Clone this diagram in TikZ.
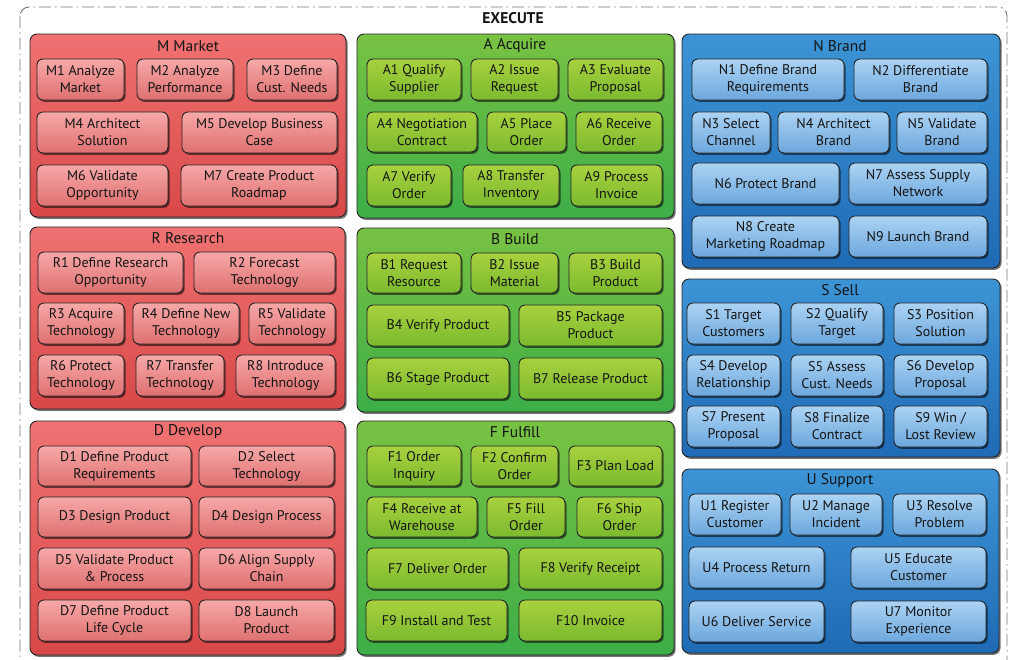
\documentclass[tikz,border=0pt]{standalone}
\usepackage{fontspec}
\setmainfont{PT Sans}
\usetikzlibrary{shadows}
\definecolor{redcT}{HTML}{F07272}
\definecolor{redcB}{HTML}{D94848}
\definecolor{redbT}{HTML}{F7A8A8}
\definecolor{redbB}{HTML}{DF7070}
\definecolor{grncT}{HTML}{78C243}
\definecolor{grncB}{HTML}{3DAE48}
\definecolor{grnbT}{HTML}{A8D13E}
\definecolor{grnbB}{HTML}{7BBA2F}
\definecolor{blucT}{HTML}{3C94D5}
\definecolor{blucB}{HTML}{1F6AB5}
\definecolor{blubT}{HTML}{ACD3F3}
\definecolor{blubB}{HTML}{6CA7DD}
\definecolor{edge}{HTML}{262626}
\definecolor{txt}{HTML}{141414}
\tikzset{
  base/.style={draw=edge, line width=0.9pt, inner sep=0pt, align=center, text=txt,
    shading=axis, shading angle=0,
    drop shadow={shadow xshift=1.6pt, shadow yshift=-1.8pt, fill=black, opacity=0.55}},
  cont/.style={base, rounded corners=7pt},
  box/.style={base, rounded corners=6pt, font=\fontsize{14}{17}\selectfont},
  redc/.style={cont, top color=redcT, bottom color=redcB},
  redb/.style={box, top color=redbT, bottom color=redbB},
  grnc/.style={cont, top color=grncT, bottom color=grncB},
  grnb/.style={box, top color=grnbT, bottom color=grnbB},
  bluc/.style={cont, top color=blucT, bottom color=blucB},
  blub/.style={box, top color=blubT, bottom color=blubB},
  ttl/.style={text=txt, inner sep=0pt, font=\fontsize{15.5}{18}\selectfont},
  frame/.style={draw=black!55, line width=0.9pt, rounded corners=9pt,
    dash pattern=on 12pt off 4pt on 1.5pt off 4pt}
}
\newcommand\bx[7]{%
  \pgfmathsetmacro\bxw{#4-#2}\pgfmathsetmacro\bxh{#5-#3}%
  \node[#6, minimum width=\bxw pt, minimum height=\bxh pt] (#1) at ({(#2+#4)/2},{(#3+#5)/2}) {#7};}
\begin{document}
\begin{tikzpicture}[x=1pt,y=-1pt]
\useasboundingbox (0,0) rectangle (1011,659);
\draw[frame] (20,7) rectangle (1007,680);
\node[font=\fontsize{15.5}{18}\selectfont\bfseries, text=txt, inner sep=0pt] (exec) at (513,18) {EXECUTE};
% ---------- Red column
\bx{M}{30}{34}{346}{217}{redc}{}
\node[ttl] (Mt) at (188,46) {M Market};
\bx{M1}{37}{59}{124}{100}{redb}{M1 Analyze\\Market}
\bx{M2}{137}{59}{233}{100}{redb}{M2 Analyze\\Performance}
\bx{M3}{247}{59}{337}{100}{redb}{M3 Define\\Cust. Needs}
\bx{M4}{37}{112}{168}{153}{redb}{M4 Architect\\Solution}
\bx{M5}{182}{112}{337}{153}{redb}{M5 Develop Business\\Case}
\bx{M6}{37}{165}{168}{206}{redb}{M6 Validate\\Opportunity}
\bx{M7}{181}{165}{337}{206}{redb}{M7 Create Product\\Roadmap}
\bx{R}{30}{227}{345}{409}{redc}{}
\node[ttl] (Rt) at (188,238) {R Research};
\bx{R1}{38}{252}{183}{293}{redb}{R1 Define Research\\Opportunity}
\bx{R2}{194}{252}{335}{293}{redb}{R2 Forecast\\Technology}
\bx{R3}{38}{303}{124}{344}{redb}{R3 Acquire\\Technology}
\bx{R4}{133}{303}{239}{344}{redb}{R4 Define New\\Technology}
\bx{R5}{249}{303}{335}{344}{redb}{R5 Validate\\Technology}
\bx{R6}{38}{355}{124}{396}{redb}{R6 Protect\\Technology}
\bx{R7}{136}{355}{224}{396}{redb}{R7 Transfer\\Technology}
\bx{R8}{236}{355}{335}{396}{redb}{R8 Introduce\\Technology}
\bx{D}{30}{421}{345}{655}{redc}{}
\node[ttl] (Dt) at (188,432) {D Develop};
\bx{D1}{38}{446}{191}{486}{redb}{D1 Define Product\\Requirements}
\bx{D2}{199}{446}{334}{486}{redb}{D2 Select\\Technology}
\bx{D3}{38}{497}{191}{537}{redb}{D3 Design Product}
\bx{D4}{199}{497}{334}{537}{redb}{D4 Design Process}
\bx{D5}{38}{548}{191}{589}{redb}{D5 Validate Product\\\& Process}
\bx{D6}{199}{548}{334}{589}{redb}{D6 Align Supply\\Chain}
\bx{D7}{38}{600}{191}{641}{redb}{D7 Define Product\\Life Cycle}
\bx{D8}{199}{600}{334}{641}{redb}{D8 Launch\\Product}
% ---------- Green column
\bx{A}{357}{34}{674}{218}{grnc}{}
\node[ttl] (At) at (515,46) {A Acquire};
\bx{A1}{367}{59}{461}{100}{grnb}{A1 Qualify\\Supplier}
\bx{A2}{471}{59}{558}{100}{grnb}{A2 Issue\\Request}
\bx{A3}{568}{59}{663}{100}{grnb}{A3 Evaluate\\Proposal}
\bx{A4}{367}{112}{477}{152}{grnb}{A4 Negotiation\\Contract}
\bx{A5}{487}{112}{566}{152}{grnb}{A5 Place\\Order}
\bx{A6}{576}{112}{662}{152}{grnb}{A6 Receive\\Order}
\bx{A7}{367}{165}{451}{206}{grnb}{A7 Verify\\Order}
\bx{A8}{463}{165}{559}{206}{grnb}{A8 Transfer\\Inventory}
\bx{A9}{571}{165}{662}{206}{grnb}{A9 Process\\Invoice}
\bx{B}{357}{228}{674}{412}{grnc}{}
\node[ttl] (Bt) at (515,239) {B Build};
\bx{B1}{367}{253}{461}{293}{grnb}{B1 Request\\Resource}
\bx{B2}{471}{253}{558}{293}{grnb}{B2 Issue\\Material}
\bx{B3}{569}{253}{662}{293}{grnb}{B3 Build\\Product}
\bx{B4}{367}{305}{509}{346}{grnb}{B4 Verify Product}
\bx{B5}{519}{305}{662}{346}{grnb}{B5 Package\\Product}
\bx{B6}{367}{358}{509}{399}{grnb}{B6 Stage Product}
\bx{B7}{519}{358}{662}{399}{grnb}{B7 Release Product}
\bx{F}{357}{421}{674}{655}{grnc}{}
\node[ttl] (Ft) at (515,432) {F Fulfill};
\bx{F1}{367}{446}{461}{486}{grnb}{F1 Order\\Inquiry}
\bx{F2}{471}{446}{558}{486}{grnb}{F2 Confirm\\Order}
\bx{F3}{569}{446}{662}{486}{grnb}{F3 Plan Load}
\bx{F4}{367}{497}{477}{537}{grnb}{F4 Receive at\\Warehouse}
\bx{F5}{487}{497}{565}{537}{grnb}{F5 Fill\\Order}
\bx{F6}{577}{497}{662}{537}{grnb}{F6 Ship\\Order}
\bx{F7}{367}{548}{508}{589}{grnb}{F7 Deliver Order}
\bx{F8}{519}{548}{662}{589}{grnb}{F8 Verify Receipt}
\bx{F9}{366}{600}{507}{641}{grnb}{F9 Install and Test}
\bx{F10}{519}{600}{662}{641}{grnb}{F10 Invoice}
% ---------- Blue column
\bx{N}{682}{34}{1000}{268}{bluc}{}
\node[ttl] (Nt) at (840,46) {N Brand};
\bx{N1}{692}{59}{844}{100}{blub}{N1 Define Brand\\Requirements}
\bx{N2}{854}{59}{987}{100}{blub}{N2 Differentiate\\Brand}
\bx{N3}{692}{112}{770}{153}{blub}{N3 Select\\Channel}
\bx{N4}{778}{112}{889}{153}{blub}{N4 Architect\\Brand}
\bx{N5}{897}{112}{987}{153}{blub}{N5 Validate\\Brand}
\bx{N6}{692}{163}{839}{204}{blub}{N6 Protect Brand}
\bx{N7}{849}{163}{987}{204}{blub}{N7 Assess Supply\\Network}
\bx{N8}{692}{216}{839}{257}{blub}{N8 Create\\Marketing Roadmap}
\bx{N9}{849}{216}{987}{257}{blub}{N9 Launch Brand}
\bx{S}{682}{279}{1000}{457}{bluc}{}
\node[ttl] (St) at (840,290) {S Sell};
\bx{S1}{687}{303}{780}{344}{blub}{S1 Target\\Customers}
\bx{S2}{791}{303}{883}{344}{blub}{S2 Qualify\\Target}
\bx{S3}{894}{303}{987}{344}{blub}{S3 Position\\Solution}
\bx{S4}{687}{355}{780}{396}{blub}{S4 Develop\\Relationship}
\bx{S5}{791}{355}{883}{396}{blub}{S5 Assess\\Cust. Needs}
\bx{S6}{894}{355}{987}{396}{blub}{S6 Develop\\Proposal}
\bx{S7}{687}{406}{780}{447}{blub}{S7 Present\\Proposal}
\bx{S8}{791}{406}{883}{447}{blub}{S8 Finalize\\Contract}
\bx{S9}{894}{406}{987}{447}{blub}{S9 Win /\\Lost Review}
\bx{U}{682}{469}{999}{653}{bluc}{}
\node[ttl] (Ut) at (840,481) {U Support};
\bx{U1}{689}{494}{781}{535}{blub}{U1 Register\\Customer}
\bx{U2}{790}{494}{882}{535}{blub}{U2 Manage\\Incident}
\bx{U3}{893}{494}{986}{535}{blub}{U3 Resolve\\Problem}
\bx{U4}{689}{547}{824}{588}{blub}{U4 Process Return}
\bx{U5}{851}{547}{986}{588}{blub}{U5 Educate\\Customer}
\bx{U6}{689}{601}{824}{642}{blub}{U6 Deliver Service}
\bx{U7}{851}{601}{986}{642}{blub}{U7 Monitor\\Experience}
\end{tikzpicture}
\end{document}
